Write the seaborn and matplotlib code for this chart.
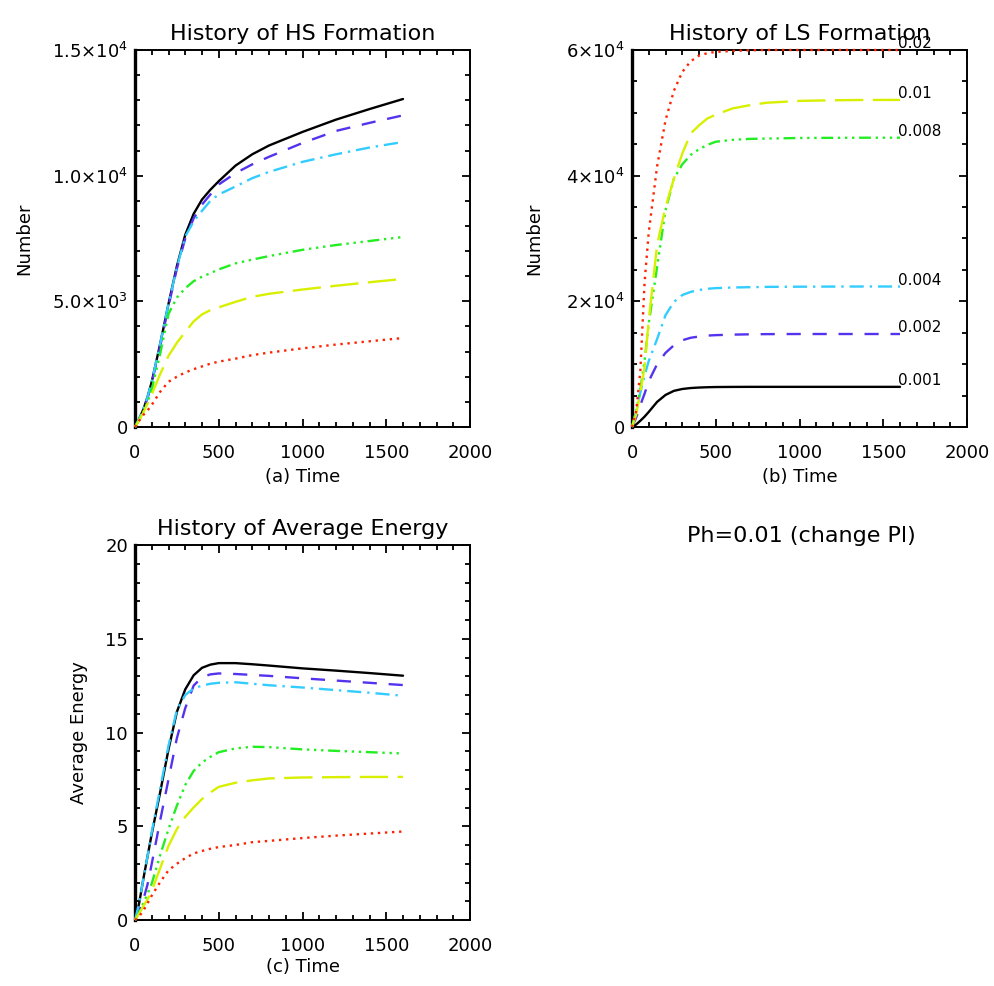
import matplotlib
matplotlib.use("Agg")
import matplotlib.pyplot as plt
import seaborn as sns
import numpy as np
import pandas as pd
from matplotlib.ticker import MultipleLocator, FixedLocator, FixedFormatter

# ---------------- data ----------------
time = [0, 25, 50, 75, 100, 150, 200, 250, 300, 350, 400, 450, 500,
        600, 700, 800, 1000, 1200, 1400, 1600]

pl_labels = ["0.001", "0.002", "0.004", "0.008", "0.01", "0.02"]

# (a) History of HS formation
hs_0001 = [0, 330, 700, 1200, 1800, 3300, 4900, 6400, 7650, 8480, 9050, 9440, 9780,
           10400, 10850, 11200, 11740, 12230, 12650, 13050]
hs_0002 = [0, 320, 680, 1150, 1750, 3200, 4800, 6300, 7500, 8300, 8850, 9250, 9650,
           10100, 10450, 10750, 11300, 11780, 12100, 12400]
hs_0004 = [0, 330, 700, 1200, 1800, 3300, 4900, 6350, 7580, 8180, 8600, 9000, 9250,
           9570, 9900, 10150, 10550, 10850, 11120, 11340]
hs_0008 = [0, 280, 600, 1000, 1500, 2900, 4500, 5150, 5520, 5800, 5980, 6120, 6270,
           6510, 6660, 6800, 7050, 7240, 7400, 7560]
hs_001 = [0, 270, 580, 930, 1300, 2100, 2830, 3350, 3780, 4200, 4480, 4650, 4760,
          4980, 5180, 5300, 5470, 5620, 5760, 5890]
hs_002 = [0, 250, 480, 660, 880, 1400, 1800, 2000, 2170, 2300, 2410, 2520, 2600,
          2720, 2860, 2960, 3130, 3280, 3410, 3540]

# (b) History of LS formation
ls_0001 = [0, 400, 1000, 1650, 2400, 4000, 5100, 5750, 6050, 6200, 6280, 6330, 6360,
           6380, 6390, 6390, 6390, 6390, 6390, 6390]
ls_0002 = [0, 1500, 3500, 5300, 7300, 10000, 11800, 13000, 13800, 14200, 14400, 14550, 14620,
           14700, 14750, 14780, 14800, 14800, 14800, 14800]
ls_0004 = [0, 2500, 5500, 8200, 10500, 14000, 17800, 19900, 21000, 21500, 21800, 22000, 22100,
           22200, 22250, 22300, 22330, 22350, 22360, 22360]
ls_0008 = [0, 2500, 6000, 10500, 16500, 25500, 34500, 39500, 41800, 43300, 44200, 44900, 45400,
           45700, 45850, 45900, 46000, 46020, 46040, 46040]
ls_001 = [0, 2000, 5500, 9500, 17000, 29000, 35000, 39500, 43500, 46700, 48000, 49100, 49700,
          50700, 51200, 51600, 51900, 52000, 52050, 52060]
ls_002 = [0, 2500, 9000, 23000, 31000, 41500, 48800, 53500, 56500, 58200, 59100, 59500, 59700,
          59850, 59950, 60000, 60000, 60000, 60000, 60000]

# (c) History of average energy
en_0001 = [0, 0.9, 2.2, 3.4, 4.6, 6.8, 9.1, 11.1, 12.3, 13.05, 13.45, 13.62, 13.7,
           13.7, 13.64, 13.57, 13.42, 13.3, 13.17, 13.03]
en_0002 = [0, 0.5, 1.1, 1.9, 3.0, 5.3, 7.5, 9.7, 11.3, 12.5, 12.95, 13.1, 13.15,
           13.12, 13.07, 13.02, 12.89, 12.77, 12.65, 12.53]
en_0004 = [0, 0.9, 2.2, 3.4, 4.7, 7.0, 9.3, 11.2, 12.0, 12.35, 12.5, 12.6, 12.65,
           12.68, 12.6, 12.52, 12.4, 12.26, 12.12, 11.96]
en_0008 = [0, 0.4, 0.9, 1.4, 1.95, 3.45, 4.85, 6.1, 7.2, 7.95, 8.4, 8.7, 8.95,
           9.15, 9.24, 9.22, 9.1, 9.02, 8.95, 8.88]
en_001 = [0, 0.35, 0.75, 1.1, 1.55, 2.75, 3.95, 4.85, 5.5, 6.0, 6.45, 6.8, 7.1,
          7.32, 7.45, 7.55, 7.6, 7.62, 7.63, 7.63]
en_002 = [0, 0.2, 0.5, 0.9, 1.3, 2.02, 2.65, 3.0, 3.3, 3.55, 3.68, 3.8, 3.89,
          4.0, 4.15, 4.22, 4.37, 4.5, 4.61, 4.72]

hs_series = [hs_0001, hs_0002, hs_0004, hs_0008, hs_001, hs_002]
ls_series = [ls_0001, ls_0002, ls_0004, ls_0008, ls_001, ls_002]
en_series = [en_0001, en_0002, en_0004, en_0008, en_001, en_002]

hs_ticklabels = ["0", "5.0×10$^{3}$", "1.0×10$^{4}$", "1.5×10$^{4}$"]
ls_ticklabels = ["0", "2×10$^{4}$", "4×10$^{4}$", "6×10$^{4}$"]
en_ticklabels = ["0", "5", "10", "15", "20"]

# ---------------- styles ----------------
colors = ["#000000", "#5533ee", "#33ccff", "#22ee22", "#d8f000", "#ff2200"]
styles = ["-", (0, (6, 5)), (0, (6, 2.5, 1, 2.5)), (0, (5, 2, 1, 2, 1, 2, 1, 2)),
          (0, (12, 4)), (0, (1, 2))]

sns.set_style("white")
plt.rcParams["font.family"] = ["DejaVu Sans"]
plt.rcParams["mathtext.fontset"] = "dejavusans"
plt.rcParams["text.color"] = "black"
plt.rcParams["axes.labelcolor"] = "black"
plt.rcParams["xtick.color"] = "black"
plt.rcParams["ytick.color"] = "black"

fig = plt.figure(figsize=(9.95, 9.86), dpi=100)
W, H = 995.0, 986.0


def make_ax(l, t, r, b):
    return fig.add_axes([l / W, 1 - b / H, (r - l) / W, (b - t) / H])


ax_a = make_ax(135, 50, 470, 427)
ax_b = make_ax(632, 50, 967, 427)
ax_c = make_ax(135, 545, 470, 920)


def draw(ax, series):
    for vals, c, ls in zip(series, colors, styles):
        df = pd.DataFrame({"Time": time, "v": vals})
        sns.lineplot(data=df, x="Time", y="v", color=c, linestyle=ls, lw=1.7,
                     ax=ax, legend=False, clip_on=False, zorder=3)


def style_ax(ax, title, xlabel, ylabel, ymax, ymajor, yminor, ylabels):
    ax.set_xlim(0, 2000)
    ax.set_ylim(0, ymax)
    ax.xaxis.set_major_locator(MultipleLocator(500))
    ax.xaxis.set_minor_locator(MultipleLocator(100))
    ax.yaxis.set_major_locator(FixedLocator(ymajor))
    ax.yaxis.set_major_formatter(FixedFormatter(ylabels))
    ax.yaxis.set_minor_locator(MultipleLocator(yminor))
    ax.tick_params(which="both", direction="in", top=True, right=True,
                   bottom=True, left=True, width=1.3, colors="black")
    ax.tick_params(which="major", length=6)
    ax.tick_params(which="minor", length=3.5)
    ax.tick_params(axis="x", which="major", pad=12, labelsize=13)
    ax.tick_params(axis="y", which="major", pad=5, labelsize=13)
    for side, sp in ax.spines.items():
        sp.set_visible(True)
        sp.set_color("black")
        sp.set_linewidth(2.4 if side == "left" else 1.4)
        sp.set_zorder(2.5)
    ax.set_title(title, fontsize=16, pad=7, color="black")
    ax.set_xlabel(xlabel, fontsize=13)
    ax.set_ylabel(ylabel, fontsize=13)


draw(ax_a, hs_series)
style_ax(ax_a, "History of HS Formation", "(a) Time", "Number", 15000,
         [0, 5000, 10000, 15000], 1000, hs_ticklabels)
ax_a.yaxis.set_label_coords(-0.305, 0.5)
ax_a.xaxis.set_label_coords(0.5, -0.11)

draw(ax_b, ls_series)
style_ax(ax_b, "History of LS Formation", "(b) Time", "Number", 60000,
         [0, 20000, 40000, 60000], 5000, ls_ticklabels)
ax_b.yaxis.set_label_coords(-0.265, 0.5)
ax_b.xaxis.set_label_coords(0.5, -0.11)
for vals, lab in zip(ls_series, pl_labels):
    ax_b.text(time[-1] - 10, vals[-1] + 300, lab, fontsize=11, ha="left",
              va="baseline", clip_on=False, zorder=4)

draw(ax_c, en_series)
style_ax(ax_c, "History of Average Energy", "(c) Time", "Average Energy", 20,
         [0, 5, 10, 15, 20], 1, en_ticklabels)
ax_c.yaxis.set_label_coords(-0.14, 0.5)
ax_c.xaxis.set_label_coords(0.5, -0.10)

fig.text(801 / W, 1 - 536 / H, "Ph=0.01 (change Pl)", fontsize=16,
         ha="center", va="center")

fig.savefig("out.png", dpi=100, facecolor="white")
